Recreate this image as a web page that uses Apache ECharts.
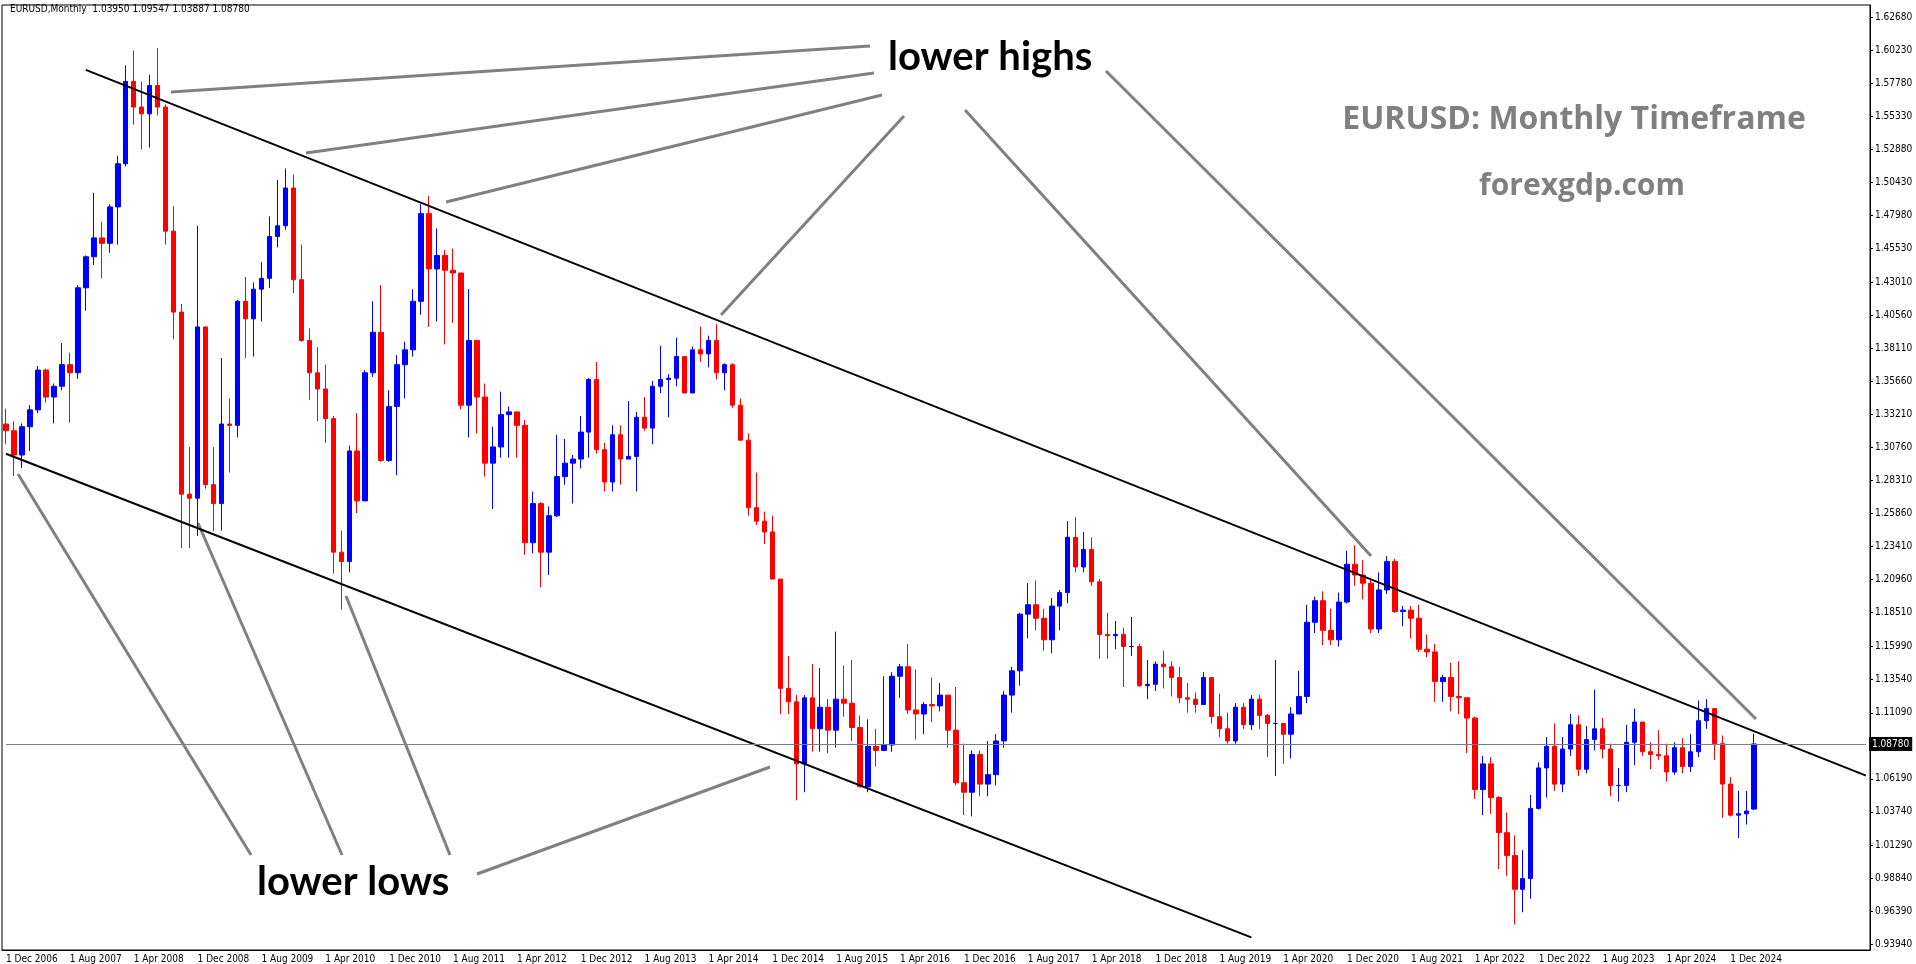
<!DOCTYPE html>
<html>
<head>
<meta charset="utf-8">
<script src="https://cdn.jsdelivr.net/npm/echarts@6/dist/echarts.min.js"></script>
<style>html,body{margin:0;padding:0;background:#fff}#main{width:1916px;height:964px}</style>
</head>
<body>
<div id="main"></div>
<script>
// monthly EURUSD, Dec 2006 .. Mar 2025
var firstOpen = 1.3250;
var closes = [1.3200,
1.3020,1.3230,1.3355,1.3650,1.3450,1.3530,1.3690,1.3630,1.4260,1.4490,1.4630,1.4590,
1.4860,1.5180,1.5790,1.5600,1.5550,1.5760,1.5600,1.4680,1.4080,1.2730,1.2700,1.3970,
1.2800,1.2660,1.3250,1.3240,1.4160,1.4030,1.4250,1.4330,1.4640,1.4720,1.5000,1.4320,
1.3870,1.3630,1.3510,1.3290,1.2300,1.2230,1.3050,1.2680,1.3630,1.3930,1.2980,1.3380,
1.3690,1.3800,1.4160,1.4810,1.4400,1.4500,1.4390,1.4370,1.3390,1.3870,1.3450,1.2960,
1.3080,1.3320,1.3340,1.3240,1.2370,1.2660,1.2300,1.2570,1.2860,1.2960,1.2990,1.3190,
1.3580,1.3060,1.2820,1.3170,1.2990,1.3010,1.3300,1.3220,1.3530,1.3580,1.3590,1.3750,
1.3480,1.3800,1.3770,1.3870,1.3630,1.3690,1.3390,1.3130,1.2630,1.2530,1.2450,1.2100,
1.1290,1.1190,1.0730,1.1220,1.0990,1.1150,1.0980,1.1210,1.1180,1.1000,1.0560,1.0860,
1.0830,1.0870,1.1380,1.1450,1.1130,1.1100,1.1170,1.1160,1.1240,1.0980,1.0590,1.0520,
1.0800,1.0580,1.0650,1.0900,1.1240,1.1420,1.1840,1.1910,1.1810,1.1650,1.1900,1.2000,
1.2410,1.2190,1.2320,1.2080,1.1690,1.1680,1.1690,1.1600,1.1600,1.1310,1.1320,1.1470,
1.1450,1.1370,1.1220,1.1210,1.1170,1.1370,1.1080,1.0990,1.0900,1.1150,1.1020,1.1210,
1.1090,1.1030,1.1030,1.0950,1.1100,1.1230,1.1780,1.1940,1.1720,1.1650,1.1930,1.2210,
1.2130,1.2070,1.1730,1.2020,1.2230,1.1860,1.1870,1.1810,1.1580,1.1560,1.1340,1.1370,
1.1230,1.1220,1.1070,1.0540,1.0730,1.0480,1.0220,1.0050,0.9800,0.9880,1.0400,1.0700,
1.0860,1.0580,1.0840,1.1020,1.0690,1.0910,1.0990,1.0840,1.0570,1.0570,1.0890,1.1040,
1.0820,1.0800,1.0790,1.0670,1.0850,1.0710,1.0820,1.1050,1.1140,1.0880,1.0580,1.0350,
1.0360,1.0380,1.0878];
var highs = [1.3365,
1.3270,1.3255,1.3390,1.3680,1.3660,1.3550,1.3850,1.3780,1.4280,1.4500,1.4965,1.4750,
1.4880,1.5240,1.5910,1.6020,1.5790,1.5840,1.6038,1.5620,1.4865,1.4140,1.3080,1.4720,
1.3950,1.3080,1.3740,1.3440,1.4170,1.4340,1.4300,1.4450,1.4790,1.5060,1.5145,1.5100,
1.4580,1.3960,1.3820,1.3690,1.3310,1.2460,1.3090,1.3330,1.3650,1.4160,1.4280,1.3500,
1.3760,1.3860,1.4250,1.4880,1.4940,1.4700,1.4540,1.4550,1.4370,1.4250,1.3870,1.3550,
1.3230,1.3490,1.3380,1.3280,1.3280,1.2750,1.2670,1.2640,1.3170,1.3140,1.3020,1.3310,
1.3590,1.3710,1.3110,1.3240,1.3240,1.3420,1.3340,1.3450,1.3570,1.3830,1.3620,1.3890,
1.3700,1.3825,1.3970,1.3905,1.3990,1.3700,1.3700,1.3440,1.3180,1.2890,1.2600,1.2570,
1.2100,1.1530,1.1240,1.1240,1.1470,1.1440,1.1210,1.1710,1.1460,1.1500,1.1090,1.1060,
1.0990,1.1380,1.1410,1.1470,1.1620,1.1430,1.1190,1.1370,1.1330,1.1240,1.1300,1.0880,
1.0830,1.0830,1.0900,1.0950,1.1270,1.1450,1.1850,1.2070,1.2090,1.1880,1.1960,1.2020,
1.2530,1.2560,1.2450,1.2410,1.2100,1.1850,1.1790,1.1740,1.1820,1.1620,1.1500,1.1490,
1.1570,1.1490,1.1450,1.1330,1.1260,1.1410,1.1290,1.1250,1.1110,1.1180,1.1180,1.1240,
1.1240,1.1100,1.1500,1.1020,1.1150,1.1420,1.1910,1.1970,1.2010,1.1880,1.2000,1.2310,
1.2350,1.2240,1.2110,1.2150,1.2270,1.2250,1.1900,1.1900,1.1910,1.1690,1.1620,1.1390,
1.1480,1.1490,1.1190,1.1080,1.0790,1.0780,1.0490,1.0370,1.0200,1.0090,1.0500,1.0740,
1.0930,1.1030,1.0930,1.1100,1.1090,1.1010,1.1280,1.1070,1.0880,1.0700,1.1020,1.1140,
1.1040,1.0890,1.0980,1.0880,1.0890,1.0920,1.0950,1.1200,1.1210,1.1140,1.0940,1.0630,
1.0530,1.0530,1.09547];
var lows = [1.3100,
1.2865,1.2925,1.3050,1.3330,1.3410,1.3255,1.3500,1.3260,1.3585,1.4090,1.4430,1.4330,
1.4520,1.4580,1.5160,1.5470,1.5285,1.5300,1.5540,1.4580,1.3880,1.2330,1.2330,1.2420,
1.2770,1.2455,1.2460,1.2890,1.3150,1.3740,1.3750,1.4010,1.4260,1.4560,1.4690,1.4220,
1.3860,1.3430,1.3270,1.3110,1.2140,1.1875,1.2150,1.2590,1.2700,1.3600,1.2970,1.2970,
1.2870,1.3440,1.3750,1.4060,1.3970,1.4010,1.3840,1.4000,1.3360,1.3150,1.3180,1.2860,
1.2620,1.3000,1.3000,1.3000,1.2280,1.2290,1.2040,1.2130,1.2560,1.2800,1.2660,1.2920,
1.3000,1.3030,1.2750,1.2750,1.2800,1.2990,1.2750,1.3200,1.3100,1.3480,1.3300,1.3530,
1.3480,1.3480,1.3710,1.3670,1.3580,1.3500,1.3370,1.3150,1.2570,1.2500,1.2360,1.2100,
1.1100,1.1100,1.0460,1.0520,1.0820,1.0820,1.0810,1.0850,1.1080,1.0900,1.0560,1.0520,
1.0710,1.0860,1.0820,1.1220,1.1100,1.0910,1.0950,1.1040,1.1120,1.0850,1.0570,1.0350,
1.0340,1.0490,1.0490,1.0570,1.0850,1.1110,1.1310,1.1660,1.1720,1.1570,1.1550,1.1720,
1.1920,1.2150,1.2150,1.2050,1.1510,1.1510,1.1580,1.1300,1.1530,1.1300,1.1210,1.1270,
1.1290,1.1230,1.1180,1.1110,1.1110,1.1180,1.1030,1.0930,1.0880,1.0880,1.0990,1.0980,
1.0990,1.0780,1.0640,1.0730,1.0770,1.1100,1.1180,1.1700,1.1610,1.1610,1.1600,1.1920,
1.2050,1.1950,1.1700,1.1700,1.1990,1.1850,1.1750,1.1660,1.1560,1.1520,1.1190,1.1190,
1.1120,1.1100,1.0810,1.0470,1.0350,1.0360,0.9950,0.9900,0.9540,0.9630,0.9730,1.0390,
1.0480,1.0530,1.0520,1.0790,1.0640,1.0660,1.0830,1.0770,1.0490,1.0450,1.0520,1.0720,
1.0790,1.0690,1.0760,1.0600,1.0650,1.0660,1.0670,1.0780,1.0990,1.0760,1.0330,1.0340,
1.0180,1.0280,1.03887];
var priceTicks = [1.62680,1.60230,1.57780,1.55330,1.52880,1.50430,1.47980,1.45530,1.43010,
1.40560,1.38110,1.35660,1.33210,1.30760,1.28310,1.25860,1.23410,1.20960,1.18510,1.15990,
1.13540,1.11090,1.06190,1.03740,1.01290,0.98840,0.96390,0.93940];
var lastPrice = 1.08780;
var totalSlots = 234;

var monthNames = ['Jan','Feb','Mar','Apr','May','Jun','Jul','Aug','Sep','Oct','Nov','Dec'];
var cats = [];
for (var i = 0; i < totalSlots; i++) {
    var m = (11 + i) % 12, y = 2006 + Math.floor((11 + i) / 12);
    cats.push('1 ' + monthNames[m] + ' ' + y);
}
var ohlc = [];
for (var i = 0; i < closes.length; i++) {
    var o = i === 0 ? firstOpen : closes[i - 1];
    if (i === closes.length - 1) o = 1.03950;
    ohlc.push([o, closes[i], lows[i], highs[i]]);
}

function gline(x1, y1, x2, y2) {
    return { type: 'line', silent: true, shape: { x1: x1, y1: y1, x2: x2, y2: y2 },
             style: { stroke: '#808080', lineWidth: 3 } };
}

var myChart = echarts.init(document.getElementById('main'));
option = {
    backgroundColor: '#fff',
    animation: false,
    grid: { left: 2, right: 46, top: 5, bottom: 14, show: true, borderColor: '#000', borderWidth: 1 },
    xAxis: {
        type: 'category',
        data: cats,
        boundaryGap: true,
        axisLine: { lineStyle: { color: '#000' } },
        axisTick: { interval: function (i) { return i % 8 === 0 && i < closes.length; }, length: 3, lineStyle: { color: '#000' } },
        axisLabel: { interval: function (i) { return i % 8 === 0 && i < closes.length; },
                     color: '#000', fontSize: 10, fontFamily: 'DejaVu Sans Condensed', margin: 4, align: 'left' },
        splitLine: { show: false }
    },
    yAxis: {
        type: 'value',
        position: 'right',
        min: 0.935,
        max: 1.6357,
        axisLine: { show: true, lineStyle: { color: '#000' } },
        axisTick: { show: true, length: 3, customValues: priceTicks, lineStyle: { color: '#000' } },
        axisLabel: { color: '#000', fontSize: 10, fontFamily: 'DejaVu Sans Condensed', margin: 5,
                     customValues: priceTicks, formatter: function (v) { return v.toFixed(5); } },
        splitLine: { show: false }
    },
    series: [{
        type: 'candlestick',
        data: ohlc,
        barWidth: 5,
        itemStyle: { color: '#0000ff', color0: '#ff0000', borderColor: '#0000ff', borderColor0: '#ff0000', borderWidth: 1 },
        markLine: {
            silent: true,
            symbol: 'none',
            animation: false,
            data: [
                [{ coord: [10, 1.5876] }, { coord: [233, 1.0643] }],
                [{ coord: [0, 1.3030] }, { coord: [156, 0.9444] }],
                [{ coord: [0, lastPrice] }, { coord: [233, lastPrice],
                  lineStyle: { color: '#6f7f9a', width: 1 },
                  label: { show: true, position: 'end', formatter: '1.08780', color: '#fff',
                           backgroundColor: '#000', padding: [2, 3], fontSize: 10, fontFamily: 'DejaVu Sans Condensed', distance: 3 } }]
            ],
            lineStyle: { color: '#000', width: 2, type: 'solid' },
            label: { show: false }
        }
    }],
    graphic: [
        { type: 'text', left: 10, top: 4, style: { text: 'EURUSD,Monthly  1.03950 1.09547 1.03887 1.08780', fontSize: 10, fill: '#000', fontFamily: 'DejaVu Sans Condensed' } },
        { type: 'text', x: 1574, y: 120, style: { text: 'EURUSD: Monthly Timeframe', fontSize: 32, fontWeight: 'bold', fill: '#808080', fontFamily: 'Open Sans', align: 'center', verticalAlign: 'middle' } },
        { type: 'text', x: 1582, y: 186, style: { text: 'forexgdp.com', fontSize: 30, fontWeight: 'bold', fill: '#808080', fontFamily: 'Open Sans', align: 'center', verticalAlign: 'middle' } },
        { type: 'text', x: 888, y: 57, style: { text: 'lower highs', fontSize: 40, fontWeight: 'bold', fill: '#000', fontFamily: 'Lato', verticalAlign: 'middle' } },
        { type: 'text', x: 257, y: 882, style: { text: 'lower lows', fontSize: 40, fontWeight: 'bold', fill: '#000', fontFamily: 'Lato', verticalAlign: 'middle' } },
        gline(171, 92, 870, 46), gline(306, 153, 874, 73), gline(446, 202, 882, 95),
        gline(721, 315, 904, 116), gline(965, 110, 1371, 556), gline(1106, 71, 1756, 719),
        gline(18, 474, 251, 855), gline(198, 523, 342, 855), gline(346, 596, 450, 855),
        gline(477, 874, 770, 767)
    ]
};
myChart.setOption(option);
</script>
</body>
</html>
